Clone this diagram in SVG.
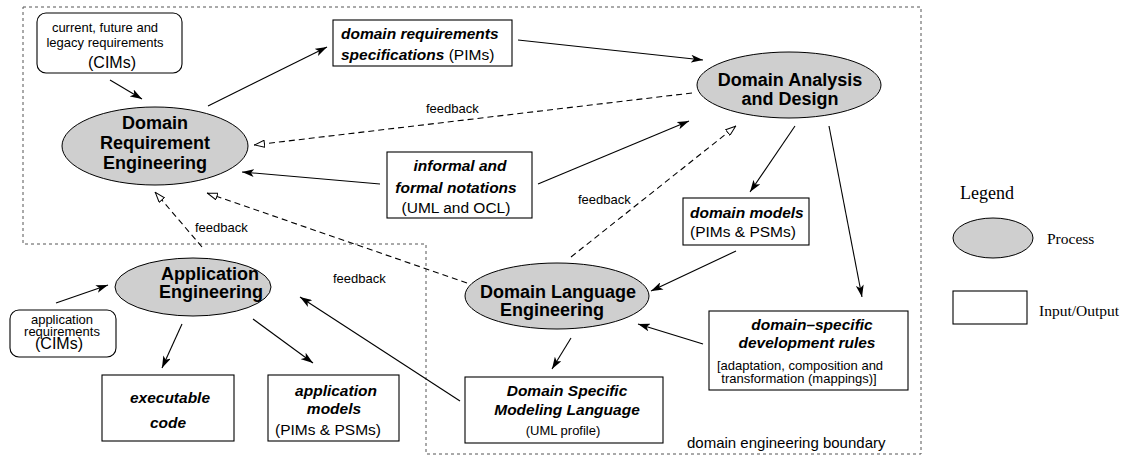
<svg xmlns="http://www.w3.org/2000/svg" width="1129" height="456" viewBox="0 0 1129 456">
<style>
.proc{fill:#cfcfcf;stroke:#000;stroke-width:1}
.box{fill:#fff;stroke:#000;stroke-width:1.1}
.t{font-family:"Liberation Sans",Arial,sans-serif;fill:#000}
.pt{font-size:18px;font-weight:bold;text-anchor:middle}
.bi{font-size:15.5px;font-weight:bold;font-style:italic}
.r{font-size:15.5px}
.s{font-size:13px}
.m{text-anchor:middle}
.lg{font-family:"Liberation Serif","Times New Roman",serif;fill:#000}
.c{stroke:#000;stroke-width:1.1;fill:none}
.solid{marker-end:url(#fa)}
.fb{stroke-dasharray:6 4;marker-end:url(#oa)}
</style>
<defs>
<marker id="fa" viewBox="0 0 12 8" refX="12" refY="4" markerWidth="12" markerHeight="8" markerUnits="userSpaceOnUse" orient="auto">
<path d="M0,0 L12,4 L0,8 L3,4 z" fill="#000"/>
</marker>
<marker id="oa" viewBox="0 0 11 8" refX="11" refY="4" markerWidth="11" markerHeight="8" markerUnits="userSpaceOnUse" orient="auto">
<path d="M0.5,0.5 L10.5,4 L0.5,7.5 z" fill="#fff" stroke="#000" stroke-width="1" stroke-dasharray="none"/>
</marker>
</defs>

<g id="boundary">
<path d="M23,7 L921,7 L921,454 L426,454 L426,244 L23,244 Z" fill="none" stroke="#555" stroke-width="1" stroke-dasharray="3 3"/>
<text class="t" x="687" y="448" font-size="15">domain engineering boundary</text>
</g>

<g id="connectors">
<line class="c solid" x1="110" y1="80" x2="142" y2="99"/>
<line class="c solid" x1="208" y1="106" x2="327" y2="47"/>
<line class="c solid" x1="518" y1="40" x2="703" y2="60"/>
<line class="c fb" x1="692" y1="93" x2="254" y2="145"/>
<line class="c solid" x1="538" y1="184" x2="689" y2="121"/>
<line class="c solid" x1="380" y1="184" x2="242" y2="172"/>
<line class="c fb" x1="571" y1="257" x2="736" y2="126"/>
<line class="c fb" x1="467" y1="283" x2="207" y2="193"/>
<line class="c fb" x1="202" y1="247" x2="155" y2="192"/>
<line class="c solid" x1="795" y1="126" x2="750" y2="192"/>
<line class="c solid" x1="829" y1="126" x2="862" y2="297"/>
<line class="c solid" x1="736" y1="251" x2="651" y2="291"/>
<line class="c solid" x1="703" y1="344" x2="638" y2="324"/>
<line class="c solid" x1="571" y1="338" x2="552" y2="369"/>
<line class="c solid" x1="460" y1="401" x2="300" y2="297"/>
<line class="c solid" x1="56" y1="303" x2="108" y2="285"/>
<line class="c solid" x1="182" y1="324" x2="162" y2="368"/>
<line class="c solid" x1="253" y1="319" x2="313" y2="363"/>
<text class="t s" x="426" y="113">feedback</text>
<text class="t s" x="578" y="204">feedback</text>
<text class="t s" x="195" y="232">feedback</text>
<text class="t s" x="333" y="283">feedback</text>
</g>

<g id="current-requirements">
<rect class="box" x="37" y="13" width="145" height="60" rx="9"/>
<text class="t s m" x="105" y="32">current, future and</text>
<text class="t s m" x="105" y="47">legacy requirements</text>
<text class="t m" x="112" y="68" font-size="16">(CIMs)</text>
</g>

<g id="domain-requirement-engineering">
<ellipse class="proc" cx="155" cy="146" rx="93" ry="39"/>
<text class="t pt" x="155" y="129">Domain</text>
<text class="t pt" x="155" y="149">Requirement</text>
<text class="t pt" x="155" y="169">Engineering</text>
</g>

<g id="domain-requirements-specifications">
<rect class="box" x="333" y="20" width="179" height="46"/>
<text class="t bi" x="341" y="39">domain requirements</text>
<text class="t" x="341" y="60"><tspan class="bi">specifications</tspan><tspan class="r"> (PIMs)</tspan></text>
</g>

<g id="domain-analysis-design">
<ellipse class="proc" cx="789" cy="85" rx="92" ry="33"/>
<text class="t pt" x="790" y="86">Domain Analysis</text>
<text class="t pt" x="790" y="105">and Design</text>
</g>

<g id="notations">
<rect class="box" x="387" y="152" width="145" height="66"/>
<text class="t bi m" x="460" y="171">informal and</text>
<text class="t bi m" x="456" y="193">formal notations</text>
<text class="t r m" x="456" y="213">(UML and OCL)</text>
</g>

<g id="domain-models">
<rect class="box" x="683" y="198" width="126" height="47"/>
<text class="t bi" x="690" y="218">domain models</text>
<text class="t r" x="690" y="237">(PIMs &amp; PSMs)</text>
</g>

<g id="development-rules">
<rect class="box" x="709" y="311" width="199" height="79"/>
<text class="t bi m" x="812" y="330">domain–specific</text>
<text class="t bi m" x="807" y="348">development rules</text>
<text class="t s m" x="800" y="370">[adaptation, composition and</text>
<text class="t s m" x="799" y="383">transformation (mappings)]</text>
</g>

<g id="domain-language-engineering">
<ellipse class="proc" cx="557" cy="296" rx="92" ry="33"/>
<text class="t pt" x="558" y="298">Domain Language</text>
<text class="t pt" x="552" y="316">Engineering</text>
</g>

<g id="dsml">
<rect class="box" x="465" y="377" width="198" height="66"/>
<text class="t bi m" x="567" y="396">Domain Specific</text>
<text class="t bi m" x="567" y="415">Modeling Language</text>
<text class="t s m" x="563" y="435">(UML profile)</text>
</g>

<g id="application-engineering">
<ellipse class="proc" cx="193" cy="287" rx="78" ry="29"/>
<text class="t pt" x="210" y="280">Application</text>
<text class="t pt" x="211" y="298">Engineering</text>
</g>

<g id="application-requirements">
<rect class="box" x="10" y="310" width="106" height="47" rx="9"/>
<text class="t s m" x="62" y="324">application</text>
<text class="t s m" x="62" y="336">requirements</text>
<text class="t m" x="59" y="349" font-size="16">(CIMs)</text>
</g>

<g id="executable-code">
<rect class="box" x="102" y="375" width="132" height="66"/>
<text class="t bi m" x="170" y="403">executable</text>
<text class="t bi m" x="168" y="428">code</text>
</g>

<g id="application-models">
<rect class="box" x="268" y="375" width="131" height="66"/>
<text class="t bi m" x="336" y="396">application</text>
<text class="t bi m" x="334" y="414">models</text>
<text class="t r m" x="328" y="435">(PIMs &amp; PSMs)</text>
</g>

<g id="legend">
<text class="lg" x="960" y="199" font-size="18">Legend</text>
<ellipse class="proc" cx="993" cy="238" rx="40" ry="20"/>
<text class="lg" x="1047" y="244" font-size="15.5">Process</text>
<rect class="box" x="953" y="291" width="74" height="33"/>
<text class="lg" x="1039" y="316" font-size="15.5">Input/Output</text>
</g>
</svg>
